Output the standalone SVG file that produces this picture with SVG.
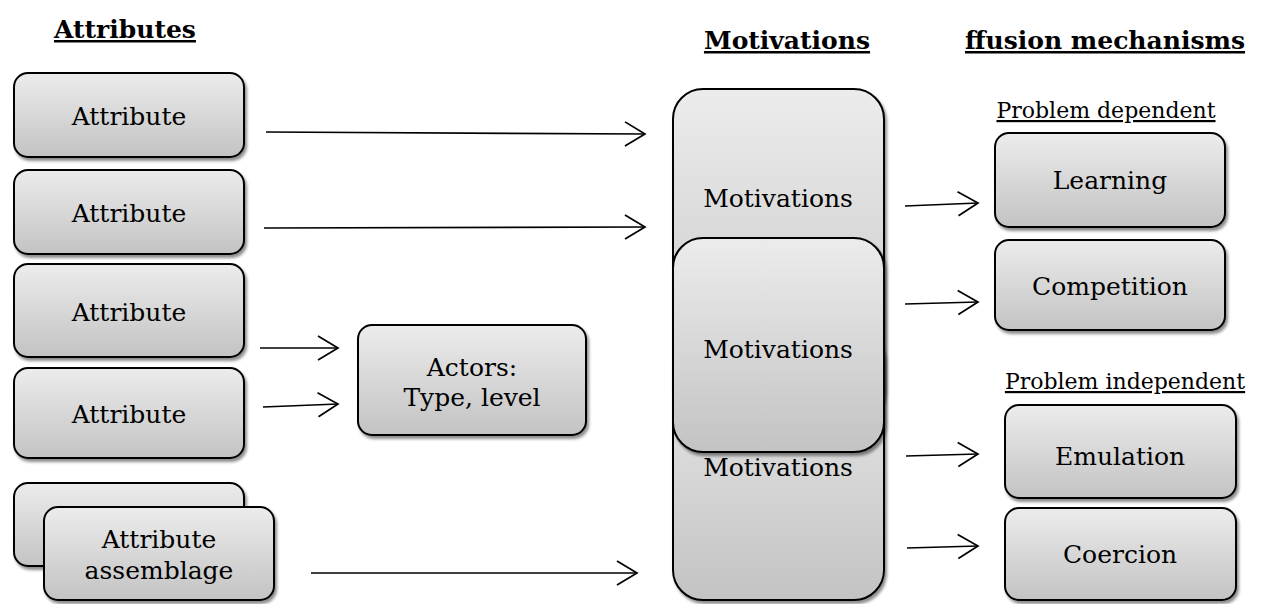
<svg xmlns="http://www.w3.org/2000/svg" width="1261" height="604" viewBox="0 0 1261 604">
<defs>
<linearGradient id="g" x1="0" y1="0" x2="0" y2="1">
<stop offset="0" stop-color="#ececec"/>
<stop offset="1" stop-color="#c3c3c3"/>
</linearGradient>
<filter id="sh" x="-10%" y="-10%" width="130%" height="130%">
<feGaussianBlur in="SourceAlpha" stdDeviation="1.5"/>
<feOffset dx="2" dy="3" result="b"/>
<feComponentTransfer><feFuncA type="linear" slope="0.45"/></feComponentTransfer>
<feMerge><feMergeNode/><feMergeNode in="SourceGraphic"/></feMerge>
</filter>
<marker id="ah" viewBox="0 0 26 28" refX="22" refY="14" markerWidth="26" markerHeight="28" markerUnits="userSpaceOnUse" orient="auto">
<path d="M2,2 L22,14 L2,26" fill="none" stroke="#000" stroke-width="1.7"/>
</marker>
</defs>
<style>
.box{fill:url(#g);stroke:#000;stroke-width:2;filter:url(#sh)}
.t{font-family:"DejaVu Serif","Liberation Serif",serif;font-size:25px;fill:#000;text-anchor:middle}
.h{font-family:"DejaVu Serif","Liberation Serif",serif;font-size:25px;font-weight:bold;fill:#000;text-anchor:middle;text-decoration:underline}
.s{font-family:"DejaVu Serif","Liberation Serif",serif;font-size:22px;fill:#000;text-anchor:middle;text-decoration:underline}
.c{stroke:#000;stroke-width:1.7;fill:none;marker-end:url(#ah)}
</style>
<rect width="1261" height="604" fill="#fff"/>
<g id="headers">
<text class="h" x="125" y="38">Attributes</text>
<text class="h" x="787" y="49">Motivations</text>
<text class="h" x="1105" y="49">ffusion mechanisms</text>
<text class="s" x="1106" y="118"> Problem dependent</text>
<text class="s" x="1125" y="389">Problem independent</text>
</g>
<g id="attr1"><rect class="box" x="14" y="73" width="230" height="84" rx="14"/><text class="t" x="129" y="125">Attribute</text></g>
<g id="attr2"><rect class="box" x="14" y="170" width="230" height="84" rx="14"/><text class="t" x="129" y="222">Attribute</text></g>
<g id="attr3"><rect class="box" x="14" y="264" width="230" height="93" rx="14"/><text class="t" x="129" y="321">Attribute</text></g>
<g id="attr4"><rect class="box" x="14" y="368" width="230" height="90" rx="14"/><text class="t" x="129" y="423">Attribute</text></g>
<g id="assemblage">
<rect class="box" x="14" y="483" width="230" height="83" rx="14"/>
<rect class="box" x="44" y="507" width="230" height="93" rx="14"/>
<text class="t" x="159" y="548">Attribute</text>
<text class="t" x="159" y="579">assemblage</text>
</g>
<g id="actors"><rect class="box" x="358" y="325" width="228" height="110" rx="14"/><text class="t" x="472" y="376">Actors:</text><text class="t" x="472" y="406">Type, level</text></g>
<g id="motivations1"><rect class="box" x="673" y="89" width="211" height="330" rx="30"/><text class="t" x="778" y="207">Motivations</text></g>
<g id="motivations3"><rect class="box" x="673" y="330" width="211" height="270" rx="30"/><text class="t" x="778" y="476">Motivations</text></g>
<g id="motivations2"><rect class="box" x="673" y="238" width="211" height="214" rx="30"/><text class="t" x="778" y="358">Motivations</text></g>
<g id="learning"><rect class="box" x="995" y="133" width="230" height="94" rx="14"/><text class="t" x="1110" y="189">Learning</text></g>
<g id="competition"><rect class="box" x="995" y="240" width="230" height="90" rx="14"/><text class="t" x="1110" y="295">Competition</text></g>
<g id="emulation"><rect class="box" x="1005" y="405" width="231" height="93" rx="14"/><text class="t" x="1120" y="465">Emulation</text></g>
<g id="coercion"><rect class="box" x="1005" y="508" width="231" height="92" rx="14"/><text class="t" x="1120" y="563">Coercion</text></g>
<g id="connectors">
<line class="c" x1="266" y1="132" x2="645" y2="134"/>
<line class="c" x1="264" y1="228" x2="645" y2="227"/>
<line class="c" x1="260" y1="348" x2="338" y2="348"/>
<line class="c" x1="263" y1="407" x2="338" y2="404"/>
<line class="c" x1="311" y1="573" x2="637" y2="573"/>
<line class="c" x1="905" y1="206" x2="978" y2="203"/>
<line class="c" x1="905" y1="304" x2="978" y2="302"/>
<line class="c" x1="906" y1="456" x2="978" y2="454"/>
<line class="c" x1="907" y1="548" x2="978" y2="546"/>
</g>
</svg>
